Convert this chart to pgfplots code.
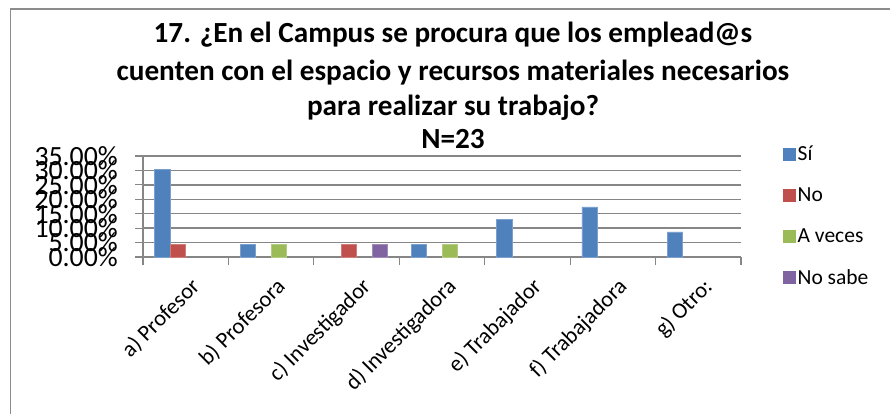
\documentclass[border=0pt]{standalone}
\usepackage{fontspec}
\setmainfont{Carlito}
\usepackage{pgfplots}
\pgfplotsset{compat=1.18}
\definecolor{cSi}{HTML}{4F81BD}
\definecolor{cNo}{HTML}{C0504D}
\definecolor{cAv}{HTML}{9BBB59}
\definecolor{cNs}{HTML}{8064A2}
\definecolor{gridGray}{HTML}{868686}
\definecolor{frameGray}{HTML}{8C8C8C}
\begin{document}
\begin{tikzpicture}[x=1bp,y=1bp]
\useasboundingbox (0,0) rectangle (890,414);
\fill[white] (0,0) rectangle (890,414);
\draw[color=frameGray, line width=1.6bp] (10.5,0) -- (10.5,405) -- (890,405);
\begin{axis}[
  at={(143bp,157bp)}, anchor=south west,
  scale only axis, width=598bp, height=101bp,
  xmin=-0.5, xmax=6.5, ymin=0, ymax=35,
  ytick={0,5,...,35},
  xtick={-0.5,0.5,...,6.5},
  xticklabels={},
  extra x ticks={0,1,2,3,4,5,6},
  extra x tick labels={a) Profesor, b) Profesora, c) Investigador, d) Investigadora, e) Trabajador, f) Trabajadora, g) Otro:},
  extra x tick style={major tick length=0pt, tick label style={rotate=45, anchor=north east, font=\fontsize{22.5bp}{26bp}\selectfont, inner sep=1bp, yshift=-15bp, xshift=-10bp}},
  axis x line*=bottom, axis y line*=left,
  axis line style={-, gridGray, line width=1.5bp},
  ymajorgrids, grid style={gridGray, line width=1.5bp},
  tick style={gridGray, line width=1.2bp},
  tick align=outside,
  major tick length=8bp,
  /pgf/number format/assume math mode=true,
  yticklabel={\pgfmathprintnumber[fixed,fixed zerofill,precision=2]{\tick}\%},
  yticklabel style={font=\fontsize{27.8bp}{30bp}\selectfont, anchor=east, inner sep=0pt, xshift=-17bp},
  ybar=0pt, bar width=15.5bp,
  legend style={draw=none, fill=none, at={(1.07,1.12)}, anchor=north west,
    font=\fontsize{21.5bp}{25bp}\selectfont, row sep=21.5bp, inner sep=0pt,
    /tikz/every even column/.append style={column sep=4bp}},
  legend cell align=left,
  clip=false,
]
\addplot[fill=cSi, draw=cSi!75!white, line width=0.6bp,
  legend image code/.code={\fill[cSi] (0bp,-6bp) rectangle (12bp,6bp);}]
  coordinates {(0,30.43) (1,4.35) (3,4.35) (4,13.04) (5,17.39) (6,8.70)};
\addplot[fill=cNo, draw=cNo!75!white, line width=0.6bp,
  legend image code/.code={\fill[cNo] (0bp,-6bp) rectangle (12bp,6bp);}]
  coordinates {(0,4.35) (2,4.35)};
\addplot[fill=cAv, draw=cAv!75!white, line width=0.6bp,
  legend image code/.code={\fill[cAv] (0bp,-6bp) rectangle (12bp,6bp);}]
  coordinates {(1,4.35) (3,4.35)};
\addplot[fill=cNs, draw=cNs!75!white, line width=0.6bp,
  legend image code/.code={\fill[cNs] (0bp,-6bp) rectangle (12bp,6bp);}]
  coordinates {(2,4.35)};
\legend{Sí, No, A veces, No sabe}
\end{axis}
\begin{scope}[every node/.style={font=\fontsize{29.2bp}{32bp}\selectfont\bfseries, anchor=base, inner sep=0pt}]
\node at (453,372) {17. ¿En el Campus se procura que los emplead@s};
\node at (453,334) {cuenten con el espacio y recursos materiales necesarios};
\node at (453,299) {para realizar su trabajo?};
\node at (453,266) {N=23};
\end{scope}
\end{tikzpicture}
\end{document}
